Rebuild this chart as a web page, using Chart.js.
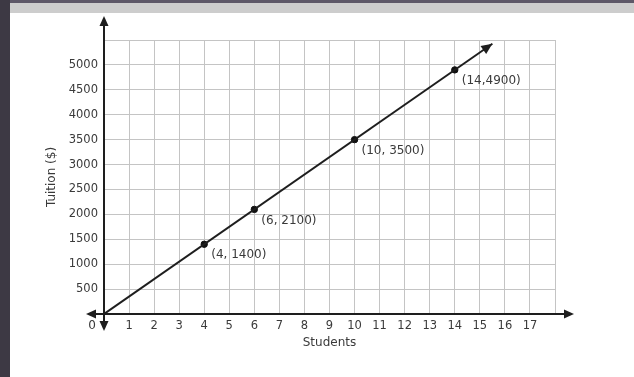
<!DOCTYPE html>
<html>
<head>
<meta charset="utf-8">
<script src="https://cdn.jsdelivr.net/npm/chart.js@4.4.0/dist/chart.umd.min.js"></script>
<style>
  body { margin: 0; width: 634px; height: 377px; overflow: hidden; background: #fff; position: relative; }
  .side { position: absolute; left: 0; top: 0; width: 10px; height: 377px; background: #3d3944; }
  .topline { position: absolute; left: 10px; top: 0; width: 624px; height: 3px; background: #5e5868; }
  .bar { position: absolute; left: 10px; top: 3px; width: 624px; height: 10px; background: #cdcdcd; }
  #myChart { position: absolute; left: 10px; top: 13px; }
</style>
</head>
<body>
<div class="side"></div>
<div class="topline"></div>
<div class="bar"></div>
<canvas id="myChart" width="624" height="364"></canvas>
<script>
const ctx = document.getElementById('myChart');

// data
const students = [4, 6, 10, 14];
const tuition = [1400, 2100, 3500, 4900];
const pointLabels = ['(4, 1400)', '(6, 2100)', '(10, 3500)', '(14,4900)'];
// line runs from the origin to the arrow tip
const lineX = [0, 15.5];
const lineY = [0, 5425];

const xMax = 18;
const yMax = 5500;

const textFont = '12px "DejaVu Sans"';
const textColor = '#3a3a3a';
const ink = '#1e1e1e';

const arrowHead = (c, x, y, angle, size) => {
    c.save();
    c.translate(x, y);
    c.rotate(angle);
    c.beginPath();
    c.moveTo(0, 0);
    c.lineTo(-size, -size * 0.45);
    c.lineTo(-size, size * 0.45);
    c.closePath();
    c.fill();
    c.restore();
}

const decorations = {
    id: 'decorations',
    afterDatasetsDraw(chart) {
        const c = chart.ctx;
        const xs = chart.scales.x, ys = chart.scales.y;
        const x0 = xs.getPixelForValue(0), y0 = ys.getPixelForValue(0);
        const area = chart.chartArea;
        c.save();
        c.strokeStyle = ink;
        c.fillStyle = ink;
        c.lineWidth = 2;
        // axes
        c.beginPath();
        c.moveTo(x0, y0 + 10);
        c.lineTo(x0, area.top - 16);
        c.moveTo(x0 - 10, y0);
        c.lineTo(area.right + 12, y0);
        c.stroke();
        arrowHead(c, x0, area.top - 24, -Math.PI / 2, 10);
        arrowHead(c, x0, y0 + 17, Math.PI / 2, 10);
        arrowHead(c, x0 - 18, y0, Math.PI, 10);
        arrowHead(c, area.right + 19, y0, 0, 10);

        // arrow on the tuition line
        const n = lineX.length - 1;
        const ax = xs.getPixelForValue(lineX[n]), ay = ys.getPixelForValue(lineY[n]);
        const bx = xs.getPixelForValue(lineX[n - 1]), by = ys.getPixelForValue(lineY[n - 1]);
        arrowHead(c, ax, ay, Math.atan2(ay - by, ax - bx), 11);

        // labels
        c.font = textFont;
        c.fillStyle = textColor;
        c.textBaseline = 'middle';
        c.textAlign = 'left';
        students.forEach((s, i) => {
            const px = xs.getPixelForValue(s), py = ys.getPixelForValue(tuition[i]);
            c.fillText(pointLabels[i], px + 7, py + 11);
        });
        c.textAlign = 'center';
        c.fillText('0', x0 - 12, y0 + 12);
        c.restore();
    }
}

const chart = new Chart(ctx, {
    type: 'scatter',
    data: {
        datasets: [{
            label: 'line',
            data: lineX.map((x, i) => ({x: x, y: lineY[i]})),
            showLine: true,
            borderColor: ink,
            borderWidth: 2,
            pointRadius: 0
        }, {
            label: 'points',
            data: students.map((s, i) => ({x: s, y: tuition[i]})),
            backgroundColor: '#111',
            borderColor: '#111',
            pointRadius: 3.2
        }]
    },
    options: {
        responsive: false,
        animation: false,
        devicePixelRatio: 1,
        layout: { padding: { left: 0, top: 27, right: 79, bottom: 0 } },
        plugins: { legend: { display: false }, tooltip: { enabled: false } },
        scales: {
            x: {
                type: 'linear',
                min: 0,
                max: xMax,
                afterFit: (scale) => { scale.height = 63 },
                ticks: {
                    stepSize: 1,
                    autoSkip: false,
                    maxRotation: 0,
                    padding: 5,
                    color: textColor,
                    font: { family: 'DejaVu Sans', size: 11.5 },
                    callback: (v) => (v === 0 || v === xMax) ? '' : v
                },
                grid: { color: '#c4c4c4', lineWidth: 1, drawTicks: false },
                border: { display: false },
                title: {
                    display: true,
                    text: 'Students',
                    color: textColor,
                    font: { family: 'DejaVu Sans', size: 12 },
                    padding: { top: 0, bottom: 27 }
                }
            },
            y: {
                min: 0,
                max: yMax,
                afterFit: (scale) => { scale.width = 94 },
                ticks: {
                    stepSize: 500,
                    padding: 6,
                    color: textColor,
                    font: { family: 'DejaVu Sans', size: 11.5 },
                    callback: (v) => (v === 0 || v === yMax) ? '' : v
                },
                grid: { color: '#c4c4c4', lineWidth: 1, drawTicks: false },
                border: { display: false },
                title: {
                    display: true,
                    text: 'Tuition ($)',
                    color: textColor,
                    font: { family: 'DejaVu Sans', size: 12 },
                    padding: { top: 35, bottom: 0 }
                }
            }
        }
    },
    plugins: [decorations]
});
</script>
</body>
</html>
